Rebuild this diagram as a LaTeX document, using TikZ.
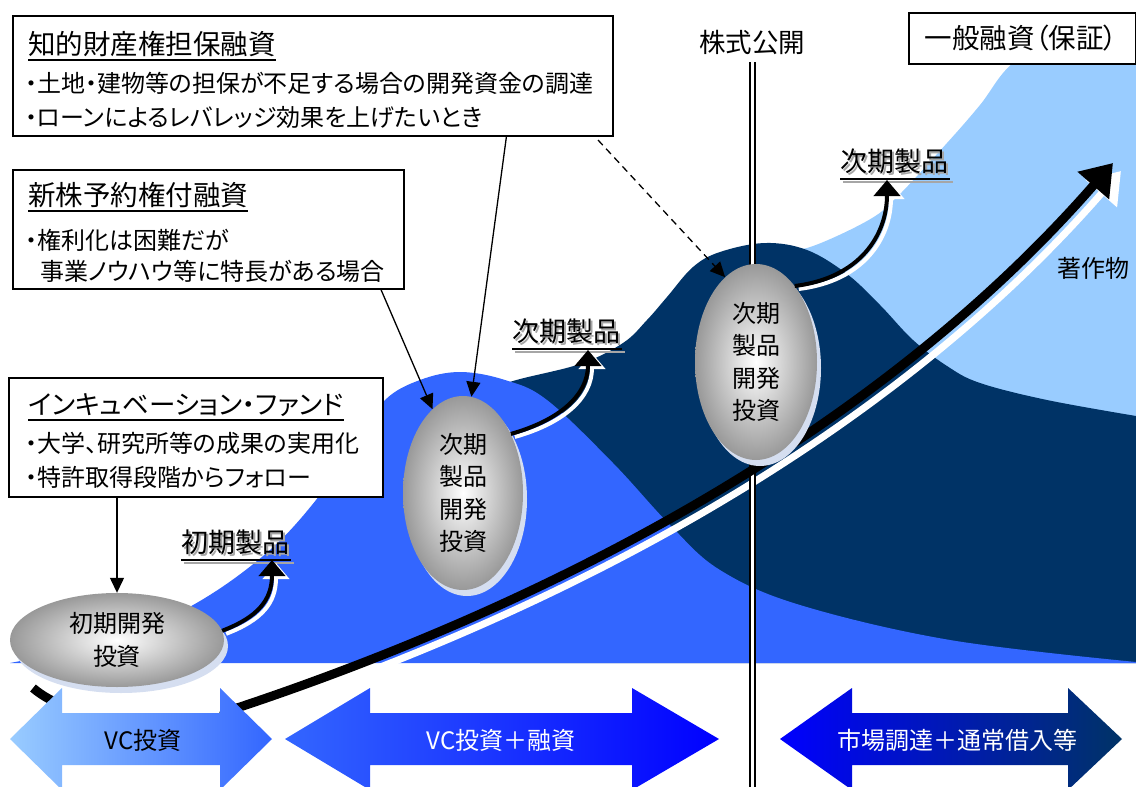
\documentclass[tikz,border=0pt]{standalone}
\usepackage{fontspec}
\setmainfont{Noto Sans CJK JP}[RawFeature=+palt]
\usetikzlibrary{shapes.geometric,arrows.meta,calc}
\definecolor{lblue}{HTML}{99CCFF}
\definecolor{navy}{HTML}{003366}
\definecolor{mblue}{HTML}{3366FF}
\definecolor{pblue}{HTML}{0000FF}
\definecolor{shadowc}{HTML}{D5DEF0}
\newcommand{\fsz}[2]{\fontsize{#1pt}{#2pt}\selectfont}
\newcommand{\shtext}[1]{\leavevmode\rlap{\hspace{2.5pt}\raisebox{-2.5pt}{\color{black!35}#1}}#1}
\begin{document}
\begin{tikzpicture}[x=1pt,y=-1pt,
  box/.style={draw=black, line width=1.5pt, fill=white, anchor=north west, inner sep=0pt},
  ttl/.style={anchor=base west, inner sep=0pt, font=\fsz{27.5}{30}},
  bod/.style={anchor=base west, inner sep=0pt, font=\fsz{24}{28}},
  ell/.style={ellipse, inner sep=0pt, align=center, shade, inner color=white, outer color=black!40, font=\fsz{24}{32.5}},
  conn/.style={line width=1.3pt, -{Triangle[length=15pt,width=14pt]}},
  prodarr/.style={line width=4pt, -{Triangle[length=16pt,width=26pt]}},
  prodlbl/.style={anchor=base west, inner sep=0pt, font=\fsz{27}{30}},
  arrtxt/.style={inner sep=0pt, font=\fsz{24}{26}},
  bigarr/.style={line width=9pt, -{Triangle[length=30pt,width=40pt]}}
]
\useasboundingbox (0,0) rectangle (1136,787);

% background areas
\fill[lblue] plot[smooth, tension=0.6] coordinates {(780,246) (807,248) (867,221) (897,197) (947,143) (980,105) (1013,63) (1070,30) (1136,14)} -- (1136,663) -- (780,663) -- cycle;
\fill[navy] plot[smooth, tension=0.6] coordinates {(480,395) (513,381) (580,364) (623,343) (647,320) (667,297) (693,267) (720,252) (765,243) (807,250) (847,274) (880,305) (913,340) (947,366) (980,383) (1047,400) (1136,416)} -- (1136,663) -- (480,663) -- cycle;
\fill[mblue] plot[smooth, tension=0.6] coordinates {(10,663) (120,638) (200,601) (270,550) (320,495) (355,443) (385,400) (420,380) (460,372) (505,380) (547,400) (613,463) (670,525) (720,570) (800,605) (950,640) (1136,662)} -- (1136,663) -- cycle;

% IPO label and double line
\node[inner sep=0pt, font=\fsz{26.5}{30}] (ipo) at (752,42) {株式公開};

% big arrow: white shadow
\draw[bigarr, white, line width=7pt, transform canvas={shift={(8pt,-8pt)}}]
  (33,688) .. controls (70,720) and (160,733) .. (240,707) .. controls (560,600) and (880,430) .. (1113,163);
% double line
\draw[line width=7pt] ([yshift=-8pt]ipo.south) -- (ipo.south |- 0,787);
\draw[white, line width=3pt] ([yshift=-8pt]ipo.south) -- (ipo.south |- 0,787);
% big arrow: black
\draw[bigarr, black]
  (33,688) .. controls (70,720) and (160,733) .. (240,707) .. controls (560,600) and (880,430) .. (1113,163);

% white cover above the first double arrow
\fill[white, rounded corners=6pt] (62,684) rectangle (220,716);

% double arrows
\shade[left color=lblue, right color=mblue] (10,739) -- (62,688) -- (62,713) -- (220,713) -- (220,688) -- (272,739) -- (220,790) -- (220,765) -- (62,765) -- (62,790) -- cycle;
\node[arrtxt, text=black] (vc) at (143,740) {VC投資};
\shade[left color=mblue, right color=pblue] (285,739) -- (370,688) -- (370,713) -- (632,713) -- (632,688) -- (719,739) -- (632,790) -- (632,765) -- (370,765) -- (370,790) -- cycle;
\node[arrtxt, text=white] (vcl) at (501,740) {VC投資＋融資};
\shade[left color=pblue, right color=navy] (780,739) -- (852,688) -- (852,713) -- (1068,713) -- (1068,688) -- (1122,739) -- (1068,790) -- (1068,765) -- (852,765) -- (852,790) -- cycle;
\node[arrtxt, text=white] (mkt) at (957,740) {市場調達＋通常借入等};

% ellipse shadows
\fill[shadowc] (121,646) ellipse [x radius=107, y radius=47];
\fill[shadowc] (467,499) ellipse [x radius=60, y radius=97];
\fill[shadowc] (760,368) ellipse [x radius=61, y radius=98];

% ellipses
\node[ell, minimum width=214pt, minimum height=94pt] (e1) at (117,640) {初期開発\\投資};
\node[ell, minimum width=120pt, minimum height=194pt] (e2) at (463,493) {次期\\製品\\開発\\投資};
\node[ell, minimum width=122pt, minimum height=196pt] (e3) at (756,362) {次期\\製品\\開発\\投資};

% product labels
\node[prodlbl] (p1) at (181,552) {\shtext{初期製品}};
\node[prodlbl] (p2) at (512,341) {\shtext{次期製品}};
\node[prodlbl] (p3) at (840,171) {\shtext{次期製品}};
\foreach \p in {p1,p2,p3}{
  \draw[black!35, line width=2pt] ($(\p.base west)+(3,11)$) -- ($(\p.base east)+(5,11)$);
  \draw[black, line width=2pt] ($(\p.base west)+(0,8)$) -- ($(\p.base east)+(2,8)$);
}
\coordinate (t1) at (272,560);
\coordinate (t2) at (588,350);
\coordinate (t3) at (887,180);

% product arrows (white shadow then black)
\draw[prodarr, white, transform canvas={shift={(4pt,-3pt)}}] (e1.5) .. controls (258,617) and (272,600) .. (t1);
\draw[prodarr] (e1.5) .. controls (258,617) and (272,600) .. (t1);
\draw[prodarr, white, transform canvas={shift={(4pt,-3pt)}}] (e2.51) .. controls (560,420) and (588,395) .. (t2);
\draw[prodarr] (e2.51) .. controls (560,420) and (588,395) .. (t2);
\draw[prodarr, white, transform canvas={shift={(4pt,-3pt)}}] (e3.63) .. controls (860,278) and (887,235) .. (t3);
\draw[prodarr] (e3.63) .. controls (860,278) and (887,235) .. (t3);

% boxes
\node[box, minimum width=600pt, minimum height=120pt] (boxA) at (12,15) {};
\node[ttl] (tA) at (28,54) {知的財産権担保融資};
\node[bod] (a1) at (25,92) {・土地・建物等の担保が不足する場合の開発資金の調達};
\node[bod] (a2) at (25,126) {・ローンによるレバレッジ効果を上げたいとき};

\node[box, minimum width=391pt, minimum height=119pt] (boxB) at (12,169) {};
\node[ttl] (tB) at (28,205) {新株予約権付融資};
\node[bod] (b1) at (25,249) {・権利化は困難だが};
\node[bod] (b2) at (40,280) {事業ノウハウ等に特長がある場合};

\node[box, minimum width=374pt, minimum height=119pt] (boxC) at (8,377) {};
\node[ttl, font=\fsz{26.5}{30}] (tC) at (28,414) {インキュベーション・ファンド};
\node[bod] (c1) at (25,452) {・大学、研究所等の成果の実用化};
\node[bod] (c2) at (25,486) {・特許取得段階からフォロー};

\foreach \t in {tA,tB,tC}{
  \draw[line width=1.5pt] ($(\t.base west)+(0,6)$) -- ($(\t.base east)+(0,6)$);
}

\node[box, minimum width=227pt, minimum height=51pt] (boxD) at (908,12) {};
\node[inner sep=0pt, font=\fsz{27.5}{30}] (tD) at (1021,38) {一般融資（保証）};

\node[inner sep=0pt, font=\fsz{24}{26}] (copy) at (1093,268) {著作物};

% connectors
\draw[conn] (boxC.south -| e1.north) -- (e1.north);
\draw[conn] ($(boxB.south west)!0.94!(boxB.south east)$) -- (e2.110);
\draw[conn] ($(boxA.south west)!0.822!(boxA.south east)$) -- (e2.85);
\coordinate (dstart) at (598,140);
\draw[conn, dash pattern=on 7pt off 5pt] (dstart) -- (e3.110);
\end{tikzpicture}
\end{document}
